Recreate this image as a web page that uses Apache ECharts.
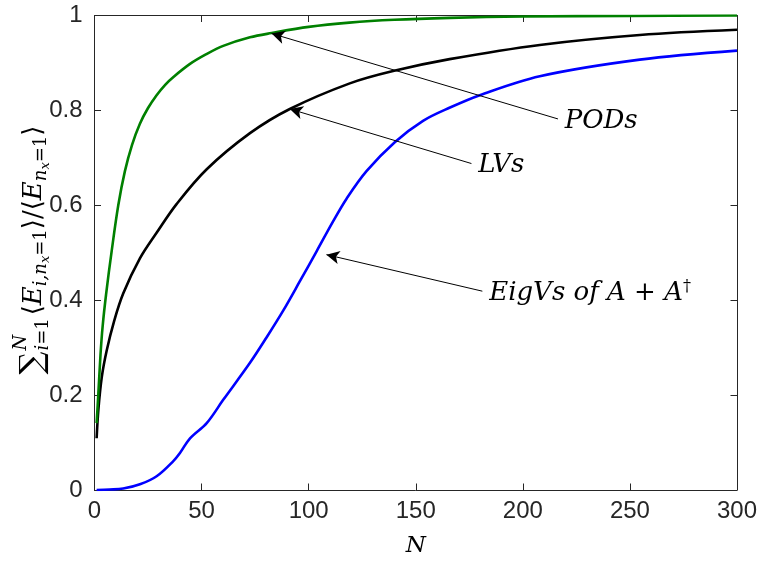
<!DOCTYPE html>
<html>
<head>
<meta charset="utf-8">
<script src="https://cdn.jsdelivr.net/npm/echarts@6/dist/echarts.min.js"></script>
<style>
  html, body { margin: 0; padding: 0; background: #fff; }
  #chart { width: 761px; height: 563px; }
</style>
</head>
<body>
<div id="chart"></div>
<script>
// Cumulative energy fraction vs number of modes N
const podN = [1, 1.8, 2.8, 3.8, 5.4, 8, 11.1, 14.2, 17.5, 21.2, 25, 29, 33, 37, 44.6, 52, 60.1, 72.6, 82.7, 100, 119, 140, 166, 200, 250, 300];
const podV = [0.141, 0.203, 0.285, 0.345, 0.412, 0.503, 0.600, 0.672, 0.727, 0.772, 0.805, 0.832, 0.854, 0.871, 0.898, 0.918, 0.936, 0.954, 0.963, 0.976, 0.985, 0.991, 0.995, 0.998, 0.999, 1.0];

const lvN = [1, 1.8, 3.4, 5.7, 9.1, 13.4, 21.2, 29, 38.4, 52.4, 72.6, 91.2, 119.2, 139.4, 165.8, 207.9, 254.6, 300];
const lvV = [0.109, 0.169, 0.238, 0.294, 0.355, 0.414, 0.488, 0.542, 0.603, 0.676, 0.752, 0.803, 0.857, 0.883, 0.908, 0.938, 0.959, 0.970];

const eigN = [1, 7, 13.4, 21.2, 29, 36.8, 39.9, 44.6, 52.4, 60.1, 72.6, 80.4, 88.1, 95.9, 103.7, 111.4, 117.7, 127, 140.2, 153.4, 166, 179.9, 207.9, 254.6, 300];
const eigV = [0.0, 0.001, 0.003, 0.012, 0.029, 0.061, 0.078, 0.109, 0.141, 0.190, 0.268, 0.322, 0.378, 0.440, 0.503, 0.566, 0.614, 0.672, 0.733, 0.778, 0.806, 0.832, 0.872, 0.907, 0.926];

// Annotation arrows: [tip N, tip value], [tail N, tail value]
const podArrow = [[82.7, 0.962], [216.4, 0.782]];
const lvArrow = [[91.2, 0.803], [176, 0.688]];
const eigArrow = [[108.3, 0.496], [181.1, 0.419]];

const xTicks = { min: 0, max: 300, step: 50 };
const yTicks = { min: 0, max: 1, step: 0.2 };

const zip = (xs, ys) => xs.map((x, i) => [x, ys[i]]);

const AXIS_COLOR = '#262626';
const LABEL_FONT = 'Liberation Sans';
const MATH_FONT = 'DejaVu Serif';

// ---- rotated y-axis title built from pieces (sum, sub/superscripts) ----
const measureCtx = document.createElement('canvas').getContext('2d');
function fontStr(size, italic) {
  return (italic ? 'italic ' : 'normal ') + size + 'px "' + MATH_FONT + '"';
}
function textWidth(t, size, italic) {
  measureCtx.font = fontStr(size, italic);
  return measureCtx.measureText(t).width;
}
function buildYTitle() {
  const F = 26, S = 18, SS = 13;
  const kids = [];
  let x = 0;
  const put = (t, size, italic, dy, advance = true) => {
    kids.push({
      type: 'text', x: x, y: dy,
      style: { text: t, font: fontStr(size, italic), fill: '#000', textAlign: 'left', textVerticalAlign: 'middle' }
    });
    const w = textWidth(t, size, italic);
    if (advance) x += w;
    return w;
  };
  // sum with stacked limits
  put('\u2211', 32, false, 0);
  x += 1;
  const x0 = x;
  const wN = put('N', S, true, -13, false);
  put('i', S, true, 9);
  put('=1', S, false, 9);
  x = Math.max(x0 + wN, x) + 3;
  // <E_{i,n_x=1}>
  put('\u27E8', F, false, 0);
  put('E', F, true, 0);
  put('i,n', S, true, 7);
  put('x', SS, true, 12);
  put('=1', S, false, 7);
  put('\u27E9', F, false, 0);
  put('/', F, false, 0);
  // <E_{n_x=1}>
  put('\u27E8', F, false, 0);
  put('E', F, true, 0);
  put('n', S, true, 7);
  put('x', SS, true, 12);
  put('=1', S, false, 7);
  put('\u27E9', F, false, 0);
  return { kids, length: x };
}
const yTitle = buildYTitle();
const yTitleCenter = 250;

const mathLabel = {
  show: true,
  position: 'end',
  distance: 7,
  color: '#000',
  fontFamily: MATH_FONT,
  fontStyle: 'italic',
  fontSize: 26,
  rich: {
    it: { fontFamily: MATH_FONT, fontStyle: 'italic', fontSize: 26, color: '#000' },
    rm: { fontFamily: MATH_FONT, fontStyle: 'normal', fontSize: 26, color: '#000' },
    sup: { fontFamily: MATH_FONT, fontStyle: 'normal', fontSize: 16, color: '#000', verticalAlign: 'top', padding: [0, 0, 12, 0] }
  }
};

function markLinesFor(pts, text) {
  return {
    silent: true,
    animation: false,
    symbol: ['arrow', 'none'],
    lineStyle: { color: '#000', width: 1, type: 'solid' },
    label: Object.assign({}, mathLabel, { formatter: text }),
    data: [[
      { coord: pts[0], symbol: 'arrow', symbolSize: [10, 13] },
      { coord: pts[1], symbol: 'none', symbolSize: 0 }
    ]]
  };
}

const chart = echarts.init(document.getElementById('chart'), null, { renderer: 'canvas' });

const baseAxis = {
  type: 'value',
  axisLine: { show: true, onZero: false, lineStyle: { color: AXIS_COLOR, width: 1 } },
  axisTick: { show: true, inside: true, length: 6.5, lineStyle: { color: AXIS_COLOR, width: 1 } },
  splitLine: { show: false }
};

const curve = (name, xs, ys, color, text, arrow) => ({
  name, type: 'line', data: zip(xs, ys), showSymbol: false,
  smooth: 0.35,
  lineStyle: { color, width: 2.6 }, itemStyle: { color },
  markLine: markLinesFor(arrow, text)
});

chart.setOption({
  animation: false,
  backgroundColor: '#fff',
  grid: { left: 94.5, right: 24, top: 15.5, bottom: 69, containLabel: false },
  xAxis: [
    Object.assign({}, baseAxis, {
      position: 'bottom', min: xTicks.min, max: xTicks.max, interval: xTicks.step,
      axisLabel: { color: AXIS_COLOR, fontFamily: LABEL_FONT, fontSize: 24, margin: 9 },
      name: 'N', nameLocation: 'middle', nameGap: 45,
      nameTextStyle: { fontFamily: MATH_FONT, fontStyle: 'italic', fontSize: 23, color: '#000' }
    }),
    Object.assign({}, baseAxis, {
      position: 'top', min: xTicks.min, max: xTicks.max, interval: xTicks.step,
      axisLabel: { show: false }
    })
  ],
  yAxis: [
    Object.assign({}, baseAxis, {
      position: 'left', min: yTicks.min, max: yTicks.max, interval: yTicks.step,
      axisLabel: { color: AXIS_COLOR, fontFamily: LABEL_FONT, fontSize: 24, margin: 12 }
    }),
    Object.assign({}, baseAxis, {
      position: 'right', min: yTicks.min, max: yTicks.max, interval: yTicks.step,
      axisLabel: { show: false }
    })
  ],
  graphic: [{
    type: 'group',
    x: 34,
    y: yTitleCenter + yTitle.length / 2,
    rotation: Math.PI / 2,
    children: yTitle.kids
  }],
  series: [
    curve('LVs', lvN, lvV, '#000000', '{it|LVs}', lvArrow),
    curve('EigVs', eigN, eigV, '#0000ff', '{it|EigVs of A}{rm| + }{it|A}{sup|\u2020}', eigArrow),
    curve('PODs', podN, podV, '#008000', '{it|PODs}', podArrow)
  ]
});
</script>
</body>
</html>
